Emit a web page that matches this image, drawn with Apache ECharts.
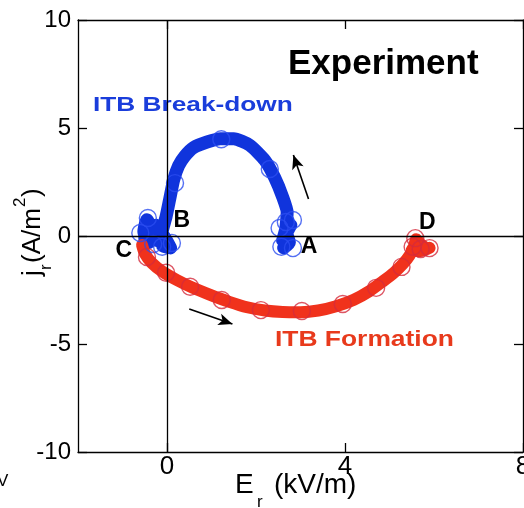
<!DOCTYPE html>
<html>
<head>
<meta charset="utf-8">
<script src="https://cdn.jsdelivr.net/npm/echarts@6/dist/echarts.min.js"></script>
<style>
html,body{margin:0;padding:0;background:#fff;}
#c{width:524px;height:508px;}
</style>
</head>
<body>
<div id="c"></div>
<script>
// ---- data ----
const xTicks = [0, 4, 8];
const yTicks = [-10, -5, 0, 5, 10];

// ITB Break-down trajectory (blue), starting at A
const blueX = [2.62, 2.75, 2.68, 2.78, 2.6, 2.72, 2.66, 2.7, 2.6, 2.42, 2.2, 1.86, 1.5, 1.2, 0.9, 0.6, 0.4, 0.26, 0.15, 0.06, -0.02, -0.1, -0.15, -0.3, -0.45, -0.52, -0.4, -0.25, -0.35, -0.5, -0.3, -0.1, 0.08, -0.15, -0.35];
const blueY = [-0.55, -0.3, 0.2, 0.5, -0.2, 0.7, 0.1, 1.1, 1.8, 2.7, 3.5, 4.2, 4.5, 4.5, 4.35, 4.1, 3.7, 3.25, 2.6, 1.7, 0.9, 0.3, -0.3, 0.1, 0.75, 0.2, -0.3, 0.5, 0.0, -0.1, 0.4, -0.45, -0.55, 0.2, -0.2];
const blueMarkX = [2.57, 2.83, 2.53, 2.83, 2.67, 2.31, 1.22, 0.18, -0.43, -0.6, -0.31, -0.11, 0.11];
const blueMarkY = [-0.5, -0.56, 0.37, 0.74, 0.65, 3.1, 4.48, 2.45, 0.83, 0.14, -0.37, -0.5, -0.32];

// ITB Formation trajectory (red), starting at C
const redX = [-0.56, -0.5, -0.34, -0.09, 0.22, 0.58, 1.0, 1.4, 1.8, 2.2, 2.6, 3.0, 3.4, 3.8, 4.2, 4.55, 4.85, 5.1, 5.3, 5.45, 5.55, 5.6, 5.75, 5.85, 5.65, 5.5, 5.7, 5.9];
const redY = [-0.42, -0.8, -1.25, -1.67, -2.04, -2.4, -2.75, -3.05, -3.3, -3.45, -3.52, -3.53, -3.45, -3.25, -2.95, -2.55, -2.1, -1.7, -1.3, -0.9, -0.5, -0.15, -0.5, -0.6, -0.35, -0.65, -0.7, -0.55];
const redMarkX = [-0.45, -0.02, 0.52, 1.23, 2.11, 3.03, 3.95, 4.7, 5.27, 5.58, 5.52, 5.9, 5.7];
const redMarkY = [-0.97, -1.7, -2.35, -2.96, -3.43, -3.47, -3.15, -2.4, -1.43, -0.1, -0.5, -0.56, -0.6];

// point annotations
const annotText = ['A', 'B', 'C', 'D'];
const annotX = [3.19, 0.33, -0.97, 5.85];
const annotY = [-0.51, 0.69, -0.67, 0.62];

// direction arrows
const arrowFromX = [3.18, 0.5];
const arrowFromY = [1.71, -3.38];
const arrowToX = [2.84, 1.47];
const arrowToY = [3.75, -4.07];

// ---- chart ----
const FONT = 'Liberation Sans, Arial, Helvetica, sans-serif';
const BLUE = '#1034dc';
const RED = '#f0321c';
const zip = (a, b) => a.map((v, i) => [v, b[i]]);

const chart = echarts.init(document.getElementById('c'), null, {renderer: 'canvas'});

const axisLineStyle = {color: '#000', width: 1.3};
const option = {
  backgroundColor: '#fff',
  animation: false,
  grid: {left: 78, right: 1, top: 20, bottom: 56, show: false, containLabel: false, outerBoundsMode: 'none'},
  xAxis: [
    {
      type: 'value', min: -2, max: 8, position: 'bottom',
      axisLine: {show: true, onZero: false, lineStyle: axisLineStyle},
      axisTick: {show: true, inside: true, length: 9, customValues: xTicks, lineStyle: axisLineStyle},
      axisLabel: {show: true, customValues: xTicks, fontSize: 26, color: '#000', margin: 2, fontFamily: FONT, hideOverlap: false},
      splitLine: {show: false}
    },
    {
      type: 'value', min: -2, max: 8, position: 'top',
      axisLine: {show: true, onZero: false, lineStyle: axisLineStyle},
      axisTick: {show: true, inside: true, length: 9, customValues: xTicks, lineStyle: axisLineStyle},
      axisLabel: {show: false},
      splitLine: {show: false}
    }
  ],
  yAxis: [
    {
      type: 'value', min: -10, max: 10, interval: 5, position: 'left',
      axisLine: {show: true, onZero: false, lineStyle: axisLineStyle},
      axisTick: {show: true, inside: true, length: 9, lineStyle: axisLineStyle},
      axisLabel: {show: true, fontSize: 24, color: '#000', margin: 7, fontFamily: FONT},
      splitLine: {show: false}
    },
    {
      type: 'value', min: -10, max: 10, interval: 5, position: 'right',
      axisLine: {show: true, onZero: false, lineStyle: axisLineStyle},
      axisTick: {show: true, inside: true, length: 9, lineStyle: axisLineStyle},
      axisLabel: {show: false},
      splitLine: {show: false}
    }
  ],
  graphic: [
    {type: 'text', x: 288, y: 64, z: 100, style: {text: 'Experiment', fill: '#000', font: 'bold 35px ' + FONT, textAlign: 'left', textVerticalAlign: 'middle'}},
    {type: 'text', x: 93, y: 105, scaleX: 1.25, z: 0, style: {text: 'ITB Break-down', fill: '#1a3ddb', font: 'bold 21px ' + FONT, textAlign: 'left', textVerticalAlign: 'middle'}},
    {type: 'text', x: 275, y: 340, scaleX: 1.2, z: 0, style: {text: 'ITB Formation', fill: '#e83a1c', font: 'bold 22px ' + FONT, textAlign: 'left', textVerticalAlign: 'middle'}},
    // x axis title
    {type: 'text', x: 235, y: 485, style: {text: 'E', fill: '#000', font: '28px ' + FONT, textAlign: 'left', textVerticalAlign: 'middle'}},
    {type: 'text', x: 257, y: 502, style: {text: 'r', fill: '#000', font: '17px ' + FONT, textAlign: 'left', textVerticalAlign: 'middle'}},
    {type: 'text', x: 274, y: 485, style: {text: '(kV/m)', fill: '#000', font: '28px ' + FONT, textAlign: 'left', textVerticalAlign: 'middle'}},
    // y axis title (rotated)
    {
      type: 'group', x: 33, y: 276, rotation: Math.PI / 2,
      children: [
        {type: 'text', x: 0, y: 0, style: {text: 'j', fill: '#000', font: '26px ' + FONT, textAlign: 'left', textVerticalAlign: 'middle'}},
        {type: 'text', x: 6, y: 13, style: {text: 'r', fill: '#000', font: '17px ' + FONT, textAlign: 'left', textVerticalAlign: 'middle'}},
        {type: 'text', x: 13, y: 0, style: {text: '(A/m', fill: '#000', font: '26px ' + FONT, textAlign: 'left', textVerticalAlign: 'middle'}},
        {type: 'text', x: 69, y: -13, style: {text: '2', fill: '#000', font: '17px ' + FONT, textAlign: 'left', textVerticalAlign: 'middle'}},
        {type: 'text', x: 79, y: 0, style: {text: ')', fill: '#000', font: '26px ' + FONT, textAlign: 'left', textVerticalAlign: 'middle'}}
      ]
    },
    // stray glyph at bottom-left edge
    {type: 'text', x: -3, y: 481, style: {text: 'V', fill: '#000', font: '17px ' + FONT, textAlign: 'left', textVerticalAlign: 'middle'}}
  ],
  series: [
    {
      type: 'line', data: [], z: 1, silent: true,
      markLine: {
        silent: true, symbol: ['none', 'none'], animation: false,
        label: {show: false},
        lineStyle: {color: '#000', width: 1.3, type: 'solid'},
        data: [{xAxis: 0}, {yAxis: 0}]
      }
    },
    {
      type: 'line', name: 'ITB Break-down', z: 3,
      data: zip(blueX, blueY), symbol: 'none', smooth: 0.2,
      lineStyle: {color: BLUE, width: 13, cap: 'round', join: 'round'}
    },
    {
      type: 'line', name: 'ITB Formation', z: 3,
      data: zip(redX, redY), symbol: 'none', smooth: 0.2,
      lineStyle: {color: RED, width: 12, cap: 'round', join: 'round'}
    },
    {
      type: 'scatter', z: 4, data: zip(blueMarkX, blueMarkY), symbol: 'circle', symbolSize: 17,
      itemStyle: {color: 'rgba(0,0,0,0)', borderColor: '#2b4cf0', borderWidth: 1.4}
    },
    {
      type: 'scatter', z: 4, data: zip(redMarkX, redMarkY), symbol: 'circle', symbolSize: 17,
      itemStyle: {color: 'rgba(0,0,0,0)', borderColor: '#d42a3c', borderWidth: 1.4}
    },
    {
      type: 'line', data: [], z: 5, silent: true,
      markLine: {
        silent: true, symbol: ['none', 'arrow'], symbolSize: [9, 14], animation: false,
        label: {show: false},
        lineStyle: {color: '#000', width: 1.6, type: 'solid'},
        data: arrowFromX.map((v, i) => [{coord: [v, arrowFromY[i]]}, {coord: [arrowToX[i], arrowToY[i]]}])
      }
    },
    {
      type: 'scatter', z: 6, symbolSize: 0, silent: true,
      data: annotText.map((t, i) => ({name: t, value: [annotX[i], annotY[i]]})),
      itemStyle: {opacity: 1},
      label: {show: true, position: 'inside', formatter: p => p.name, color: '#000', opacity: 1, fontSize: 23, fontWeight: 'bold', fontFamily: FONT}
    }
  ]
};
chart.setOption(option);
</script>
</body>
</html>
